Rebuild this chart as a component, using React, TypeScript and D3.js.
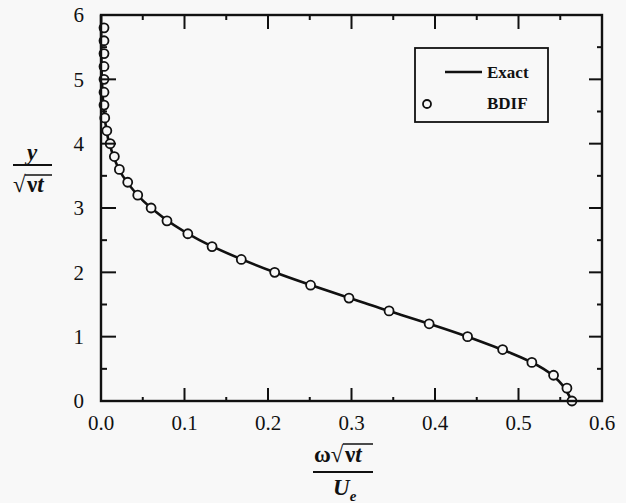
import React from 'react';
import * as d3 from 'd3';

// eta = y / sqrt(nu t) sampled by the BDIF scheme
const etaValues = [
  0, 0.2, 0.4, 0.6, 0.8, 1.0, 1.2, 1.4, 1.6, 1.8, 2.0, 2.2, 2.4, 2.6, 2.8,
  3.0, 3.2, 3.4, 3.6, 3.8, 4.0, 4.2, 4.4, 4.6, 4.8, 5.0, 5.2, 5.4, 5.6, 5.8,
];
// vorticity, omega sqrt(nu t) / Ue
const bdifValues = [
  0.564, 0.558, 0.542, 0.516, 0.481, 0.439, 0.393, 0.345, 0.297, 0.251, 0.208,
  0.168, 0.133, 0.104, 0.079, 0.060, 0.044, 0.032, 0.022, 0.016, 0.011, 0.007,
  0.0045, 0.0028, 0.0018, 0.0011, 0.0006, 0.0004, 0.0002, 0.0001,
];
const exactEta = [0, 0.5, 1.0, 1.5, 2.0, 2.5, 3.0, 3.5, 4.0, 4.5, 5.0, 5.5, 6.0];
const exactValues = [
  0.564, 0.530, 0.439, 0.321, 0.208, 0.118, 0.060, 0.026, 0.010, 0.0036, 0.0011,
  0.0003, 0.0001,
];
const xTicks = [0, 0.1, 0.2, 0.3, 0.4, 0.5, 0.6];
const yTicks = [0, 1, 2, 3, 4, 5, 6];
const xMinor = [0.05, 0.15, 0.25, 0.35, 0.45, 0.55];
const yMinor = [0.5, 1.5, 2.5, 3.5, 4.5, 5.5];

const W = 626;
const H = 503;
const margin = { top: 15, right: 24, bottom: 102, left: 101 };
const FONT = 'Liberation Serif, Times New Roman, Tinos, DejaVu Serif, serif';
const BG = '#f8f8f8';

export default function App() {
  const x = d3.scaleLinear().domain([0, 0.6]).range([margin.left, W - margin.right]);
  const y = d3.scaleLinear().domain([0, 6]).range([H - margin.bottom, margin.top]);
  const [x0, x1] = x.range();
  const [y0, y1] = y.range();

  const exactLine = d3
    .line<number>()
    .x((d) => x(d))
    .y((_, i) => y(exactEta[i]))
    .curve(d3.curveMonotoneY)(exactValues);

  const ink = '#111';
  const txt = { fontFamily: FONT };

  return (
    <svg
      width={W}
      height={H}
      style={{ position: 'absolute', left: 0, top: 0, background: BG, fontFamily: FONT }}
    >
      {/* exact curve */}
      <path d={exactLine || ''} fill="none" stroke={ink} strokeWidth={2.6} />

      {/* BDIF points */}
      {bdifValues.map((v, i) => (
        <circle
          key={i}
          cx={Math.max(x(v), x0 + 3)}
          cy={y(etaValues[i])}
          r={4.5}
          fill={BG}
          stroke={ink}
          strokeWidth={1.8}
        />
      ))}

      {/* ticks */}
      {yTicks.map((t) => (
        <g key={'y' + t}>
          <line x1={x0} x2={x0 + 15} y1={y(t)} y2={y(t)} stroke={ink} strokeWidth={2} />
          <line x1={x1} x2={x1 - 13} y1={y(t)} y2={y(t)} stroke={ink} strokeWidth={2} />
          <text
            x={x0 - 17}
            y={y(t)}
            dy="0.35em"
            textAnchor="end"
            style={txt}
            fontSize={21}
            fill={ink}
          >
            {t}
          </text>
        </g>
      ))}
      {yMinor.map((t) => (
        <g key={'ym' + t}>
          <line x1={x0} x2={x0 + 6} y1={y(t)} y2={y(t)} stroke={ink} strokeWidth={2} />
          <line x1={x1} x2={x1 - 5} y1={y(t)} y2={y(t)} stroke={ink} strokeWidth={2} />
        </g>
      ))}
      {xTicks.map((t) => (
        <g key={'x' + t}>
          <line x1={x(t)} x2={x(t)} y1={y0} y2={y0 - 13} stroke={ink} strokeWidth={2} />
          <line x1={x(t)} x2={x(t)} y1={y1} y2={y1 + 14} stroke={ink} strokeWidth={2} />
          <text
            x={x(t)}
            y={y0 + 29}
            textAnchor="middle"
            style={txt}
            fontSize={21}
            fill={ink}
          >
            {t.toFixed(1)}
          </text>
        </g>
      ))}
      {xMinor.map((t) => (
        <g key={'xm' + t}>
          <line x1={x(t)} x2={x(t)} y1={y0} y2={y0 - 4} stroke={ink} strokeWidth={2} />
          <line x1={x(t)} x2={x(t)} y1={y1} y2={y1 + 5} stroke={ink} strokeWidth={2} />
        </g>
      ))}

      {/* frame */}
      <rect x={x0} y={y1} width={x1 - x0} height={y0 - y1} fill="none" stroke={ink} strokeWidth={2.4} />

      {/* legend */}
      <rect x={415} y={48} width={133} height={74} fill={BG} stroke={ink} strokeWidth={1.8} />
      <line x1={445} x2={482} y1={72} y2={72} stroke={ink} strokeWidth={2.6} />
      <text x={487} y={78} style={txt} fontSize={17} fontWeight="bold" fill={ink}>
        Exact
      </text>
      <circle cx={427} cy={104} r={4} fill={BG} stroke={ink} strokeWidth={1.8} />
      <text x={487} y={109} style={txt} fontSize={17} fontWeight="bold" fill={ink}>
        BDIF
      </text>

      {/* y axis title */}
      <g style={txt} fill={ink} fontWeight="bold">
        <text x={32} y={160} textAnchor="middle" fontSize={23} fontStyle="italic">
          y
        </text>
        <line x1={13} x2={52} y1={165} y2={165} stroke={ink} strokeWidth={2.2} />
        <text x={13} y={192} fontSize={23}>
          √
        </text>
        <line x1={25} x2={52} y1={175} y2={175} stroke={ink} strokeWidth={1.5} />
        <text x={27} y={192} fontSize={23}>
          ν<tspan fontStyle="italic">t</tspan>
        </text>
      </g>

      {/* x axis title */}
      <g style={txt} fill={ink} fontWeight="bold">
        <text x={314} y={462} fontSize={23}>
          ω√
        </text>
        <line x1={343} x2={373} y1={444} y2={444} stroke={ink} strokeWidth={1.5} />
        <text x={345} y={462} fontSize={23}>
          ν<tspan fontStyle="italic">t</tspan>
        </text>
        <line x1={313} x2={373} y1={472} y2={472} stroke={ink} strokeWidth={2.2} />
        <text x={333} y={495} fontSize={23} fontStyle="italic">
          U
          <tspan fontSize={15} dy={6}>
            e
          </tspan>
        </text>
      </g>
    </svg>
  );
}
